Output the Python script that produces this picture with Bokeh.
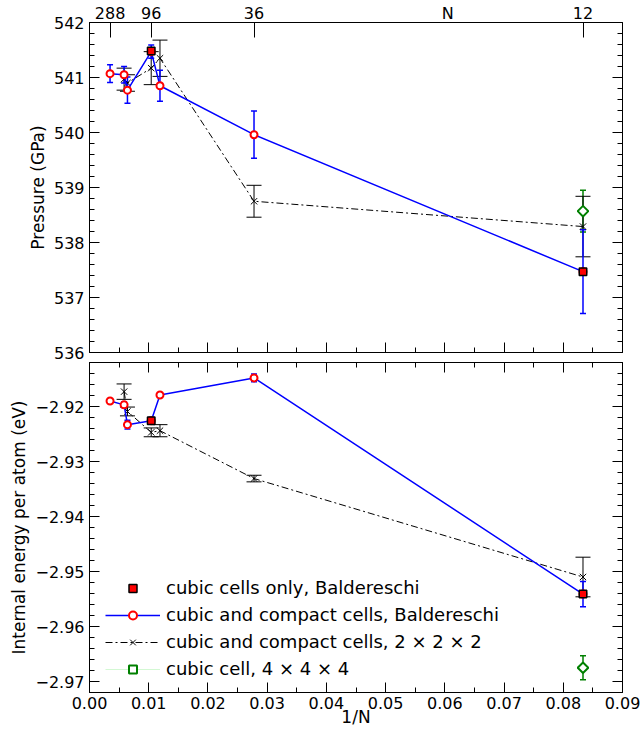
import numpy as np
from bokeh.plotting import figure
from bokeh.models import (Range1d, LinearAxis, FixedTicker, PrintfTickFormatter,
                          CustomJSTickFormatter, Whisker, TeeHead, ColumnDataSource,
                          Legend, LegendItem)
from bokeh.layouts import column
from bokeh.embed import file_html
from bokeh.resources import INLINE

# ---------------- data (1/N on x) ----------------
x_blue = [0.00347, 0.00584, 0.00641, 0.01042, 0.0119, 0.02778, 0.08333]
p_blue = [541.07, 541.05, 540.77, 541.47, 540.85, 539.96, 537.47]
p_blue_err = [0.16, 0.15, 0.24, 0.12, 0.28, 0.43, 0.76]
e_blue = [-2.9190, -2.9197, -2.9233, -2.9226, -2.9179, -2.9148, -2.9541]
e_blue_err = [0.0004, 0.0005, 0.0008, 0.0006, 0.0004, 0.0007, 0.0023]

x_black = [0.00584, 0.00641, 0.01042, 0.0119, 0.02778, 0.08333]
p_black = [540.97, 540.90, 541.17, 541.35, 538.75, 538.29]
p_black_err = [0.20, 0.15, 0.30, 0.33, 0.29, 0.55]
e_black = [-2.9173, -2.9209, -2.9247, -2.9244, -2.9331, -2.9510]
e_black_err = [0.0014, 0.0008, 0.0008, 0.0011, 0.0006, 0.0036]

x_square = [0.01042, 0.08333]
p_square = [541.48, 537.47]
e_square = [-2.9226, -2.9541]

x_green = [0.08333]
p_green = [538.57]
p_green_err = [0.38]
e_green = [-2.9675]
e_green_err = [0.0022]

N_ticks = [288, 96, 36, 12]
N_title = "N"
N_title_pos = 0.0605          # where the top-axis title sits (in 1/N units)
x_major = [0.00, 0.01, 0.02, 0.03, 0.04, 0.05, 0.06, 0.07, 0.08, 0.09]
p_major = [536, 537, 538, 539, 540, 541, 542]
e_major = [-2.97, -2.96, -2.95, -2.94, -2.93, -2.92]

labels = ["cubic cells only, Baldereschi",
          "cubic and compact cells, Baldereschi",
          "cubic and compact cells, 2 \u00d7 2 \u00d7 2",
          "cubic cell, 4 \u00d7 4 \u00d7 4"]

FONT = "DejaVu Sans"
BLUE, RED, GREEN = "#0000ff", "#ff0000", "#008000"

x_minor = [round(v + 0.005, 4) for v in x_major[:-1]]
p_minor = [round(v, 2) for v in np.arange(536, 542.0001, 0.2) if abs(v - round(v)) > 1e-6]
e_minor = [round(v, 4) for v in np.arange(-2.972, -2.9119, 0.002)
           if min(abs(v - m) for m in e_major) > 1e-6]


def add_axis(p, side, ticks, minor, fmt=None, show=True, major_len=10, minor_len=5,
             axis_label=None, standoff=5, label_standoff=3, size="16px", marks=True):
    ax = LinearAxis(ticker=FixedTicker(ticks=ticks, minor_ticks=minor))
    if fmt is not None:
        ax.formatter = fmt
    ax.major_tick_in = major_len if marks else 0
    ax.major_tick_out = 0
    ax.minor_tick_in = minor_len if marks else 0
    ax.minor_tick_out = 0
    ax.axis_line_color = "black" if marks else None
    ax.major_tick_line_color = "black" if marks else None
    ax.minor_tick_line_color = "black" if marks else None
    ax.major_label_text_font = FONT
    if show:
        ax.major_label_text_color = "black"
        ax.major_label_text_font_size = size
        ax.major_label_standoff = standoff
    else:
        ax.major_label_text_color = None
        ax.major_label_text_font_size = "0px"
        ax.major_label_standoff = 0
    if axis_label:
        ax.axis_label = axis_label
        ax.axis_label_text_font = FONT
        ax.axis_label_text_font_size = "17px"
        ax.axis_label_text_font_style = "normal"
        ax.axis_label_text_color = "black"
        ax.axis_label_standoff = label_standoff
    p.add_layout(ax, side)
    return ax


def add_err(p, x, y, err, color, width, cap):
    src = ColumnDataSource(dict(x=x, lo=[a - b for a, b in zip(y, err)],
                                hi=[a + b for a, b in zip(y, err)]))
    w = Whisker(source=src, base="x", lower="lo", upper="hi", dimension="height",
                line_color=color, line_width=width, level="underlay",
                upper_head=TeeHead(size=cap, line_color=color, line_width=width),
                lower_head=TeeHead(size=cap, line_color=color, line_width=width))
    p.add_layout(w)


def make_fig(height, yr, top, bottom):
    p = figure(width=644, height=height, x_range=Range1d(0, 0.09), y_range=yr,
               x_axis_type=None, y_axis_type=None, output_backend="svg",
               toolbar_location=None, min_border_left=89, min_border_right=22,
               min_border_top=top, min_border_bottom=bottom)
    p.outline_line_color = "black"
    p.background_fill_color = "white"
    p.border_fill_color = "white"
    return p


def draw(p, yb, ybe, yk, yke, ysq, yg, yge):
    add_err(p, x_green, yg, yge, GREEN, 1.5, 6)
    add_err(p, x_black, yk, yke, "black", 1, 15)
    add_err(p, x_blue, yb, ybe, BLUE, 1.5, 6)
    gl = p.line(x_green, yg, line_color="#90ee90", line_alpha=0.4, line_width=1)
    gm = p.scatter(x_green, yg, marker="square", angle=np.pi / 4, size=7.5,
                   fill_color="white", line_color=GREEN, line_width=2)
    kl = p.line(x_black, yk, line_color="black", line_width=1, line_dash="7 3 2 3")
    km = p.scatter(x_black, yk, marker="x", size=9, line_color="black", line_width=1)
    bl = p.line(x_blue, yb, line_color=BLUE, line_width=1.5)
    bm = p.scatter(x_blue, yb, marker="circle", size=7, fill_color="white",
                   line_color=RED, line_width=2)
    sq = p.scatter(x_square, ysq, marker="square", size=7.5, fill_color=RED,
                   line_color="black", line_width=1.5)
    return [sq], [bl, bm], [kl, km], [gl, gm]


# ---------------- top panel: pressure ----------------
p1 = make_fig(362, Range1d(536, 542), 22, 10)
draw(p1, p_blue, p_blue_err, p_black, p_black_err, p_square, p_green, p_green_err)
add_axis(p1, "left", p_major, p_minor, PrintfTickFormatter(format="%d"),
         axis_label="Pressure (GPa)", label_standoff=3)
add_axis(p1, "right", p_major, p_minor, show=False)
add_axis(p1, "below", x_major, x_minor, show=False)
# top axis: tick marks at 1/N (no labels, zero extent) ...
add_axis(p1, "above", [1.0 / n for n in N_ticks], [], show=False, major_len=15)
# ... and the N labels plus the axis title "N" on one row just above the frame
top_ticks = [1.0 / n for n in N_ticks] + [N_title_pos]
add_axis(p1, "above", top_ticks, [],
         CustomJSTickFormatter(args=dict(pos=N_title_pos, title=N_title),
                               code="if (Math.abs(tick - pos) < 1e-9) return title;"
                                    " return String(Math.round(1/tick));"),
         standoff=0, marks=False)

# ---------------- bottom panel: energy ----------------
p2 = make_fig(368, Range1d(-2.972, -2.912), 0, 38)
sq, bl, kl, gl = draw(p2, e_blue, e_blue_err, e_black, e_black_err, e_square,
                      e_green, e_green_err)
add_axis(p2, "left", e_major, e_minor,
         CustomJSTickFormatter(code="return tick.toFixed(2).replace('-', '\u2212');"),
         axis_label="Internal energy per atom (eV)", label_standoff=3)
add_axis(p2, "right", e_major, e_minor, show=False)
add_axis(p2, "above", x_major, x_minor, show=False)
add_axis(p2, "below", x_major, x_minor, PrintfTickFormatter(format="%.2f"),
         axis_label="1/N", standoff=4, label_standoff=-5)

legend = Legend(items=[LegendItem(label=labels[0], renderers=sq),
                       LegendItem(label=labels[1], renderers=bl),
                       LegendItem(label=labels[2], renderers=kl),
                       LegendItem(label=labels[3], renderers=gl)],
                location=(16, 13), border_line_color=None, background_fill_alpha=0,
                label_text_font=FONT, label_text_font_size="18px",
                label_text_color="black", glyph_width=55, glyph_height=20,
                label_height=20, spacing=6, padding=0, margin=0, label_standoff=6)
p2.add_layout(legend)

layout = column(p1, p2, spacing=0)
open("out.html", "w").write(file_html(layout, INLINE))
